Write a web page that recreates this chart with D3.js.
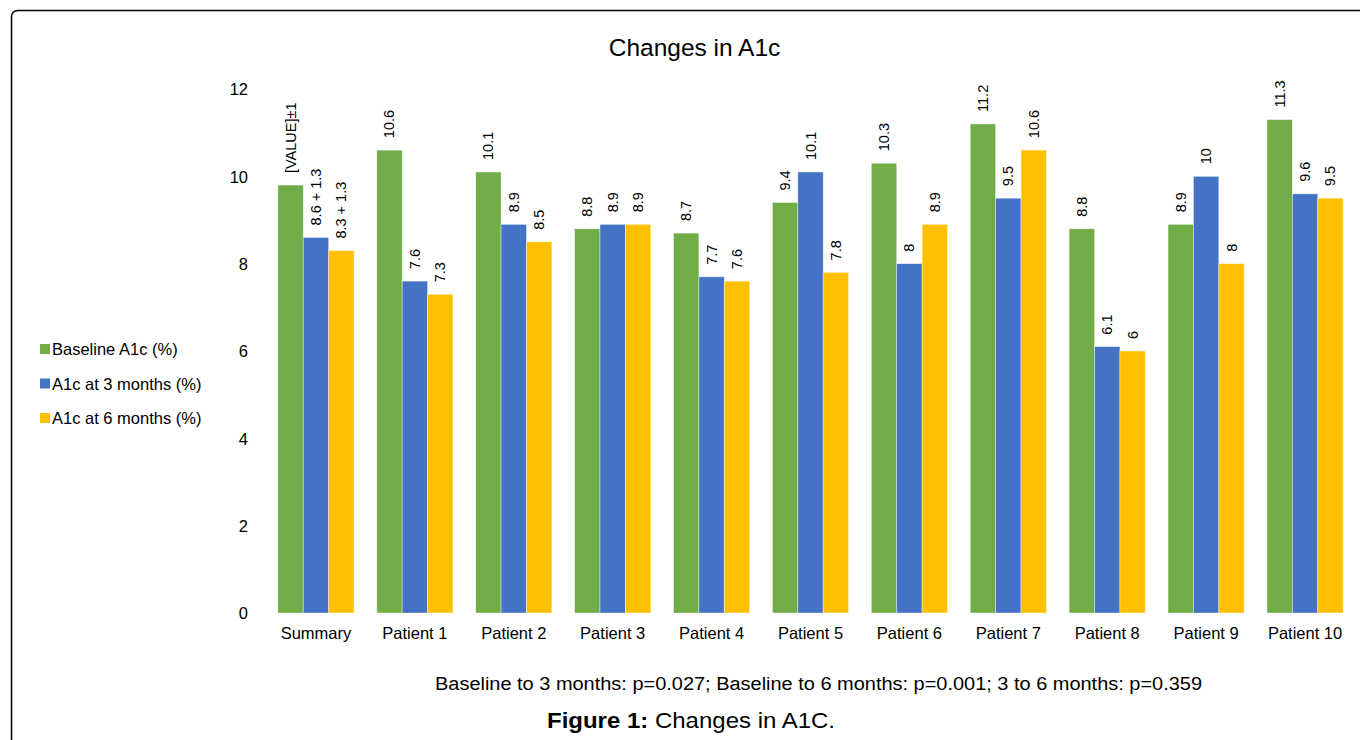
<!DOCTYPE html>
<html><head><meta charset="utf-8">
<script src="https://cdn.jsdelivr.net/npm/d3@7"></script>
<style>body{margin:0;background:#fff}svg{display:block}</style>
</head><body>
<svg id="c" width="1360" height="740"></svg>
<script>
const categories = ["Summary","Patient 1","Patient 2","Patient 3","Patient 4","Patient 5","Patient 6","Patient 7","Patient 8","Patient 9","Patient 10"];
const seriesNames = ["Baseline A1c (%)","A1c at 3 months (%)","A1c at 6 months (%)"];
const baseline = [9.8,10.6,10.1,8.8,8.7,9.4,10.3,11.2,8.8,8.9,11.3];
const month3 = [8.6,7.6,8.9,8.9,7.7,10.1,8,9.5,6.1,10,9.6];
const month6 = [8.3,7.3,8.5,8.9,7.6,7.8,8.9,10.6,6,8,9.5];
const baselineLabels = ["[VALUE]±1","10.6","10.1","8.8","8.7","9.4","10.3","11.2","8.8","8.9","11.3"];
const month3Labels = ["8.6 + 1.3","7.6","8.9","8.9","7.7","10.1","8","9.5","6.1","10","9.6"];
const month6Labels = ["8.3 + 1.3","7.3","8.5","8.9","7.6","7.8","8.9","10.6","6","8","9.5"];
const yTicks = [0,2,4,6,8,10,12];
const colors = ["#70AD47","#4472C4","#FFC000"];
const title = "Changes in A1c";
const note = "Baseline to 3 months: p=0.027; Baseline to 6 months: p=0.001; 3 to 6 months: p=0.359";

const series = [baseline, month3, month6];
const labels = [baselineLabels, month3Labels, month6Labels];
const svg = d3.select("#c");
const font = "'Liberation Sans', Arial, sans-serif";

// frame
svg.append("rect").attr("x",11.5).attr("y",10.5).attr("width",1500).attr("height",900)
  .attr("rx",6).attr("fill","none").attr("stroke","#000").attr("stroke-width",1.5);

const x0 = d3.scaleBand().domain(categories).range([266.5,1354.5]).paddingInner(0.23).paddingOuter(0.115);
const x1 = d3.scaleBand().domain([0,1,2]).range([0,x0.bandwidth()]);
const y = d3.scaleLinear().domain([0,12]).range([613,89]);

svg.append("text").attr("x",694.5).attr("y",56).attr("text-anchor","middle")
  .style("font-family",font).style("font-size","24.5px").attr("fill","#000").text(title);

// y axis
const yAxis = d3.axisLeft(y).tickValues(yTicks).tickSize(0).tickPadding(0);
const gy = svg.append("g").attr("transform","translate(248,0)").call(yAxis);
gy.select(".domain").remove();
gy.selectAll("text").style("font-family",font).style("font-size","16.5px").attr("fill","#000").attr("dy","0.35em");

// x axis
const xAxis = d3.axisBottom(x0).tickSize(0).tickPadding(0);
const gx = svg.append("g").attr("transform","translate(0,627)").call(xAxis);
gx.select(".domain").remove();
gx.selectAll("text").style("font-family",font).style("font-size","16.5px").attr("fill","#000").attr("dy","0.71em");

// bars
const groups = svg.append("g").selectAll("g").data(categories).join("g")
  .attr("transform",c=>`translate(${x0(c)},0)`);
groups.each(function(c,i){
  const g = d3.select(this);
  series.forEach((s,k)=>{
    g.append("rect").attr("x",x1(k)).attr("width",x1.bandwidth()).attr("y",y(s[i]))
      .attr("height",y(0)-y(s[i])).attr("fill",colors[k])
      .attr("stroke","rgba(255,255,255,0.5)").attr("stroke-width",0.8);
    const cx = x1(k)+x1.bandwidth()/2;
    g.append("text").attr("transform",`translate(${cx+5},${y(s[i])-12}) rotate(-90)`)
      .attr("text-anchor","start").style("font-family",font).style("font-size","14.5px")
      .attr("fill","#000").text(labels[k][i]);
  });
});

// legend
const lg = svg.append("g");
seriesNames.forEach((n,k)=>{
  const yy = 349 + k*34.5;
  lg.append("rect").attr("x",40).attr("y",yy-5).attr("width",10).attr("height",10).attr("fill",colors[k]);
  lg.append("text").attr("x",52).attr("y",yy+6).style("font-family",font).style("font-size","16.5px")
    .attr("fill","#000").text(n);
});

// note and caption
svg.append("text").attr("x",435).attr("y",690).attr("textLength",767).attr("lengthAdjust","spacingAndGlyphs")
  .style("font-family","'Liberation Sans Narrow', 'Liberation Sans', Arial, sans-serif").style("font-size","18px")
  .attr("fill","#000").text(note);
const cap = svg.append("text").attr("x",547).attr("y",728).attr("textLength",288).attr("lengthAdjust","spacingAndGlyphs")
  .style("font-family","'Liberation Sans Narrow', 'Liberation Sans', Arial, sans-serif").style("font-size","22px").attr("fill","#000");
cap.append("tspan").style("font-weight","bold").text("Figure 1:");
cap.append("tspan").text(" Changes in A1C.");
</script>
</body></html>
